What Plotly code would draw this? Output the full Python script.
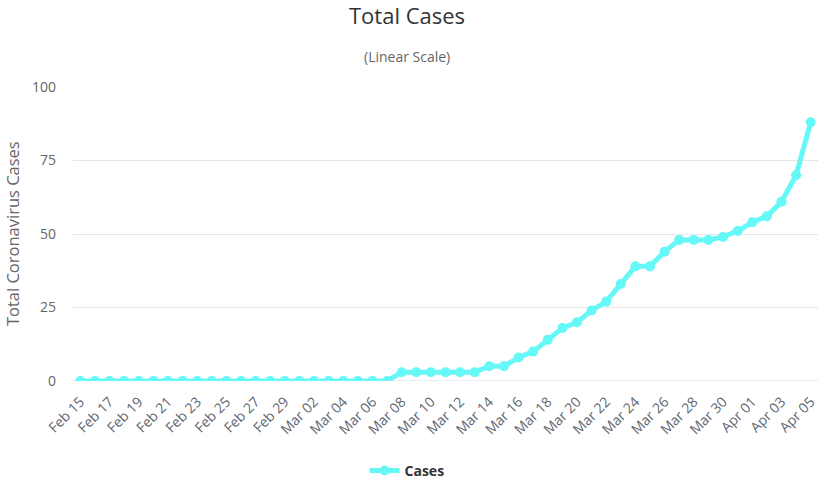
import plotly.graph_objects as go

dates = ["Feb 15","Feb 16","Feb 17","Feb 18","Feb 19","Feb 20","Feb 21","Feb 22","Feb 23","Feb 24",
         "Feb 25","Feb 26","Feb 27","Feb 28","Feb 29","Mar 01","Mar 02","Mar 03","Mar 04","Mar 05",
         "Mar 06","Mar 07","Mar 08","Mar 09","Mar 10","Mar 11","Mar 12","Mar 13","Mar 14","Mar 15",
         "Mar 16","Mar 17","Mar 18","Mar 19","Mar 20","Mar 21","Mar 22","Mar 23","Mar 24","Mar 25",
         "Mar 26","Mar 27","Mar 28","Mar 29","Mar 30","Mar 31","Apr 01","Apr 02","Apr 03","Apr 04","Apr 05"]
cases = [0]*22 + [3, 3, 3, 3, 3, 3, 5, 5, 8, 10, 14, 18, 20, 24, 27, 33, 39, 39, 44, 48, 48, 48, 49,
                  51, 54, 56, 61, 70, 88]
tick_labels = dates[::2]

color = "#66f7f7"
font = "Open Sans, DejaVu Sans, sans-serif"

fig = go.Figure()
fig.add_trace(go.Scatter(
    x=list(range(len(dates))), y=cases, mode="lines+markers", name="<b>Cases</b>",
    line=dict(color=color, width=5), marker=dict(color=color, size=10),
))

fig.update_layout(
    width=829, height=487,
    margin=dict(l=73, r=11, t=87, b=106, autoexpand=False),
    paper_bgcolor="white", plot_bgcolor="white",
    font=dict(family=font, color="#666666"),
    title=dict(text="Total Cases", x=0.491, xanchor="center", xref="container",
               y=0.967, yref="container", yanchor="middle",
               font=dict(size=22, color="#333333", family=font)),
    annotations=[
        dict(text="(Linear Scale)", x=0.448, xref="paper", y=1.105, yref="paper",
             yanchor="middle", showarrow=False, font=dict(size=14, color="#666666")),
        dict(text="Total Coronavirus Cases", textangle=-90, x=-0.0818, xref="paper",
             y=0.5, yref="paper", xanchor="center", yanchor="middle", showarrow=False,
             font=dict(size=16.5, color="#666666")),
    ],
    showlegend=True,
    legend=dict(orientation="h", x=0.491, xref="container", xanchor="center", y=-0.306, yanchor="middle",
                font=dict(size=14, color="#333333", family=font)),
    xaxis=dict(range=[-0.5, len(dates) - 0.5], tickmode="array", automargin=False,
               tickvals=list(range(0, len(dates), 2)), ticktext=tick_labels,
               tickangle=-45, tickfont=dict(size=14, color="#606670"), ticklabelstandoff=9,
               showgrid=False, zeroline=False, showline=False, ticks=""),
    yaxis=dict(range=[0, 100], tickvals=[0, 25, 50, 75, 100], showgrid=True, automargin=False,
               gridcolor="#e6e6e6", zeroline=False, showline=False, ticklabelstandoff=16,
               tickfont=dict(size=14, color="#666666"), ticks=""),
)
fig.add_shape(type="line", xref="paper", yref="y", x0=0, x1=1, y0=0, y1=0,
              line=dict(color="#ccd6eb", width=1), layer="below")

fig.write_html("out.html", config={"displayModeBar": False},
               post_script="document.body.style.margin='0';document.body.style.padding='0';")
